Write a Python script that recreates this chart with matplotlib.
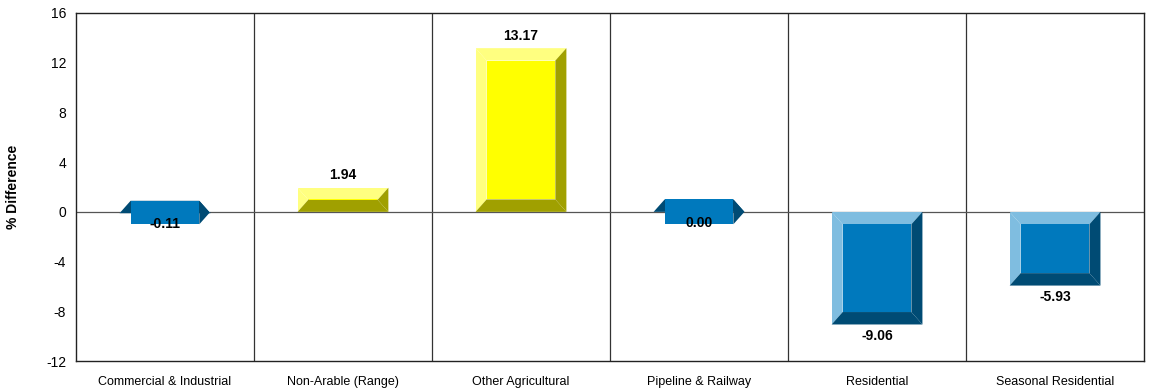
import matplotlib.pyplot as plt
from matplotlib.patches import Polygon, Rectangle

plt.rcParams['font.family'] = ['Liberation Sans', 'DejaVu Sans']

categories = ['Commercial & Industrial', 'Non-Arable (Range)', 'Other Agricultural',
              'Pipeline & Railway', 'Residential', 'Seasonal Residential']
values = [-0.11, 1.94, 13.17, 0.00, -9.06, -5.93]
value_labels = ['-0.11', '1.94', '13.17', '0.00', '-9.06', '-5.93']
yticks = [-12, -8, -4, 0, 4, 8, 12, 16]

# face, light edge, dark edge
blue = ('#0079BD', '#7FBDE0', '#004B74')
yellow = ('#FFFF00', '#FFFF80', '#A0A000')

fig = plt.figure(figsize=(11.49, 3.91), dpi=100)
ax = fig.add_axes([0.0661, 0.0767, 0.9296, 0.8901])

bw = 0.51   # bar width in category units
dx = 0.062  # bevel size
dy = 1.0


def bevel_bar(ax, xc, v, cols):
    face, light, dark = cols
    x0, x1 = xc - bw / 2, xc + bw / 2
    top, bot = max(0, v), min(0, v)
    itop, ibot = top - dy, bot + dy
    ix0, ix1 = x0 + dx, x1 - dx
    # light bands stay inside the outer box
    clip = Rectangle((x0, bot), bw, top - bot, transform=ax.transData)
    parts = [
        ([(x0, top), (x1, top), (ix1, itop), (ix0, itop)], light, True),
        ([(x0, top), (x0, bot), (ix0, ibot), (ix0, itop)], light, True),
        ([(x0, bot), (x1, bot), (ix1, ibot), (ix0, ibot)], dark, False),
        ([(x1, top), (x1, bot), (ix1, ibot), (ix1, itop)], dark, False),
        ([(ix0, itop), (ix1, itop), (ix1, ibot), (ix0, ibot)], face, False),
    ]
    for pts, c, clipped in parts:
        p = Polygon(pts, closed=True, facecolor=c, edgecolor='none', zorder=3)
        ax.add_patch(p)
        if clipped:
            p.set_clip_path(clip)


for i, (v, lab) in enumerate(zip(values, value_labels)):
    cols = yellow if v > 0 else blue
    bevel_bar(ax, i, v, cols)
    if v > 0:
        ax.annotate(lab, (i, v), xytext=(0, 4), textcoords='offset points',
                    ha='center', va='bottom', fontsize=10, fontweight='bold', zorder=5)
    else:
        ax.annotate(lab, (i, v), xytext=(0, -3), textcoords='offset points',
                    ha='center', va='top', fontsize=10, fontweight='bold', zorder=5)

ax.set_xlim(-0.5, len(categories) - 0.5)
ax.set_ylim(-12, 16)
ax.set_yticks(yticks)
ax.set_yticklabels([str(t) for t in yticks], fontsize=10)
ax.set_xticks(range(len(categories)))
ax.set_xticklabels(categories, fontsize=9)
ax.tick_params(axis='both', length=0)
ax.tick_params(axis='y', pad=7)
ax.tick_params(axis='x', pad=11)

for b in range(1, len(categories)):
    ax.axvline(b - 0.5, color='#333333', lw=0.9, zorder=1)
ax.axhline(0, color='#555555', lw=0.9, zorder=1)

for s in ax.spines.values():
    s.set_color('#222222')
    s.set_linewidth(1.0)

ax.set_ylabel('% Difference', fontsize=10, fontweight='bold')
ax.yaxis.set_label_coords(-0.052, 0.5)

fig.savefig('out.png', dpi=100)
